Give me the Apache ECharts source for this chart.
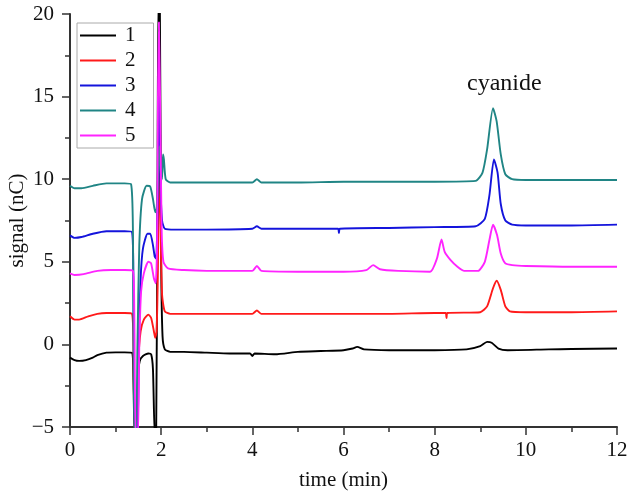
<!DOCTYPE html>
<html>
<head>
<meta charset="utf-8">
<script src="https://cdn.jsdelivr.net/npm/echarts@6/dist/echarts.min.js"></script>
<style>
  html, body { margin: 0; padding: 0; background: #fff; }
  #chart { width: 630px; height: 493px; }
</style>
</head>
<body>
<div id="chart"></div>
<script>
// chromatograms, [time (min), signal (nC)]
const trace1 = [[0,-0.8],[0.1,-0.95],[0.2,-1.0],[0.35,-0.95],[0.5,-0.8],[0.6,-0.65],[0.8,-0.5],[1.0,-0.48],[1.2,-0.48],[1.36,-0.5],[1.39,-2],[1.42,-5.5],[1.46,-5.5],[1.49,-2],[1.53,-1.0],[1.6,-0.7],[1.72,-0.55],[1.78,-0.6],[1.82,-1.5],[1.86,-5.5],[1.89,-5.5],[1.92,10],[1.94,21],[1.97,21],[2.0,5],[2.03,0.5],[2.08,-0.3],[2.2,-0.45],[2.5,-0.45],[3.0,-0.5],[3.5,-0.55],[3.95,-0.55],[4.0,-0.7],[4.05,-0.55],[4.5,-0.6],[5.0,-0.45],[5.5,-0.4],[6.0,-0.35],[6.2,-0.25],[6.3,-0.15],[6.45,-0.3],[7.0,-0.35],[8.0,-0.35],[8.7,-0.3],[9.0,-0.1],[9.15,0.15],[9.25,0.1],[9.4,-0.25],[9.6,-0.35],[10.5,-0.3],[11,-0.28],[12,-0.25]];
const trace2 = [[0,1.7],[0.1,1.5],[0.2,1.5],[0.4,1.7],[0.6,1.85],[0.8,1.9],[1.2,1.9],[1.36,1.85],[1.39,0],[1.42,-5.5],[1.47,-5.5],[1.5,-1],[1.55,0.8],[1.62,1.5],[1.72,1.8],[1.78,1.6],[1.84,0.8],[1.87,0.4],[1.9,0.8],[1.93,5],[1.95,12],[1.98,8],[2.02,3],[2.08,2.0],[2.2,1.85],[3,1.85],[4.0,1.85],[4.1,2.05],[4.2,1.85],[5,1.85],[6,1.85],[7,1.85],[8,1.9],[8.24,1.9],[8.26,1.6],[8.28,1.9],[9.0,1.95],[9.15,2.3],[9.28,3.4],[9.36,3.85],[9.45,3.3],[9.55,2.3],[9.65,2.0],[10,1.95],[11,1.95],[12,2.0]];
const trace3 = [[0,6.6],[0.1,6.45],[0.25,6.5],[0.5,6.7],[0.8,6.85],[1.2,6.85],[1.36,6.8],[1.39,4],[1.42,-5.5],[1.48,-5.5],[1.51,0],[1.55,4],[1.6,5.8],[1.7,6.7],[1.76,6.7],[1.82,6.0],[1.86,5.3],[1.89,5.2],[1.92,8],[1.95,15],[1.98,10],[2.02,7.5],[2.08,7.0],[2.3,6.95],[3,6.95],[4,7.0],[4.1,7.15],[4.2,7.0],[5,7.0],[5.88,7.0],[5.9,6.75],[5.92,7.0],[7,7.05],[8,7.1],[8.9,7.15],[9.1,7.6],[9.2,9.0],[9.3,11.2],[9.38,10.4],[9.45,8.5],[9.55,7.5],[9.7,7.25],[10,7.2],[11,7.2],[12,7.25]];
const trace4 = [[0,9.6],[0.1,9.45],[0.25,9.45],[0.5,9.6],[0.8,9.75],[1.2,9.75],[1.34,9.7],[1.38,7],[1.41,-5.5],[1.45,-5.5],[1.48,0],[1.52,6],[1.58,8.8],[1.68,9.6],[1.76,9.55],[1.82,8.8],[1.87,8.0],[1.9,8.2],[1.93,10],[1.96,12],[1.99,10.5],[2.02,10.0],[2.04,11.5],[2.06,11.2],[2.1,10.0],[2.2,9.8],[3,9.8],[4,9.8],[4.1,10.0],[4.2,9.8],[5,9.8],[6,9.85],[7,9.85],[8,9.85],[8.9,9.9],[9.05,10.4],[9.15,11.8],[9.28,14.3],[9.36,13.5],[9.45,11.5],[9.55,10.3],[9.7,10.0],[10,9.95],[11,9.95],[12,9.95]];
const trace5 = [[0,4.3],[0.1,4.2],[0.3,4.25],[0.6,4.45],[0.9,4.5],[1.2,4.5],[1.38,4.45],[1.41,2],[1.44,-5.5],[1.49,-5.5],[1.52,0],[1.56,3.2],[1.62,4.3],[1.72,5.0],[1.78,4.9],[1.84,4.0],[1.88,3.7],[1.91,6],[1.93,15],[1.95,19.5],[1.98,14],[2.01,7],[2.05,5.0],[2.15,4.6],[2.5,4.5],[3,4.45],[4,4.45],[4.1,4.75],[4.2,4.45],[5,4.4],[6,4.4],[6.5,4.5],[6.65,4.8],[6.8,4.55],[7.2,4.45],[7.9,4.4],[8.05,5.2],[8.15,6.35],[8.22,5.6],[8.35,5.1],[8.5,4.7],[8.65,4.45],[8.95,4.45],[9.1,5.0],[9.2,6.3],[9.28,7.25],[9.37,6.6],[9.45,5.5],[9.55,4.9],[9.7,4.8],[10,4.75],[11,4.7],[12,4.7]];

const seriesNames = ['1', '2', '3', '4', '5'];
const seriesData = [trace1, trace2, trace3, trace4, trace5];
const colors = ['#000000', '#ff1a1a', '#1414dc', '#208585', '#ff24ff'];
const annotation = 'cyanide';

const font = 'Liberation Serif';
const axisColor = '#333';

const chart = echarts.init(document.getElementById('chart'));

const series = seriesData.map((d, i) => ({
  name: seriesNames[i],
  type: 'line',
  data: d,
  symbol: 'none',
  smooth: 0.2,
  lineStyle: { color: colors[i], width: 1.9 },
  itemStyle: { color: colors[i] },
}));

chart.setOption({
  animation: false,
  textStyle: { fontFamily: font },
  grid: { left: 70, right: 13, top: 14, bottom: 66, outerBoundsMode: 'none' },
  legend: {
    orient: 'vertical',
    left: 77,
    top: 23,
    icon: 'rect',
    itemWidth: 36,
    itemHeight: 2,
    itemGap: 4,
    padding: [2, 18, 2, 3],
    borderColor: '#aaa',
    borderWidth: 1,
    textStyle: { fontFamily: font, fontSize: 21, color: '#111', lineHeight: 20, padding: [0, 0, 0, 4] },
    data: seriesNames,
  },
  xAxis: {
    type: 'value',
    min: 0,
    max: 12,
    interval: 2,
    name: 'time (min)',
    nameLocation: 'middle',
    nameGap: 43,
    nameMoveOverlap: false,
    nameTextStyle: { fontFamily: font, fontSize: 21, color: '#111' },
    axisLine: { onZero: false, lineStyle: { color: axisColor, width: 2 } },
    axisTick: { length: 8, lineStyle: { color: axisColor, width: 1.5 } },
    minorTick: { show: true, splitNumber: 2, length: 5, lineStyle: { color: axisColor, width: 1.5 } },
    axisLabel: { margin: 13, fontFamily: font, fontSize: 21, color: '#111' },
    splitLine: { show: false },
  },
  yAxis: {
    type: 'value',
    min: -5,
    max: 20,
    interval: 5,
    name: 'signal (nC)',
    nameLocation: 'middle',
    nameGap: 42,
    nameMoveOverlap: false,
    nameTextStyle: { fontFamily: font, fontSize: 21, color: '#111' },
    axisLine: { show: true, onZero: false, lineStyle: { color: axisColor, width: 2 } },
    axisTick: { show: true, length: 8, lineStyle: { color: axisColor, width: 1.5 } },
    minorTick: { show: true, splitNumber: 2, length: 5, lineStyle: { color: axisColor, width: 1.5 } },
    axisLabel: {
      margin: 16,
      fontFamily: font,
      fontSize: 21,
      color: '#111',
      formatter: v => (v < 0 ? '\u2212' + Math.abs(v) : String(v)),
    },
    splitLine: { show: false },
  },
  graphic: [{
    type: 'text',
    left: 467,
    top: 72,
    style: { text: annotation, font: '24px "Liberation Serif"', fill: '#111' },
  }],
  series: series,
});

window.addEventListener('resize', () => chart.resize());
</script>
</body>
</html>
